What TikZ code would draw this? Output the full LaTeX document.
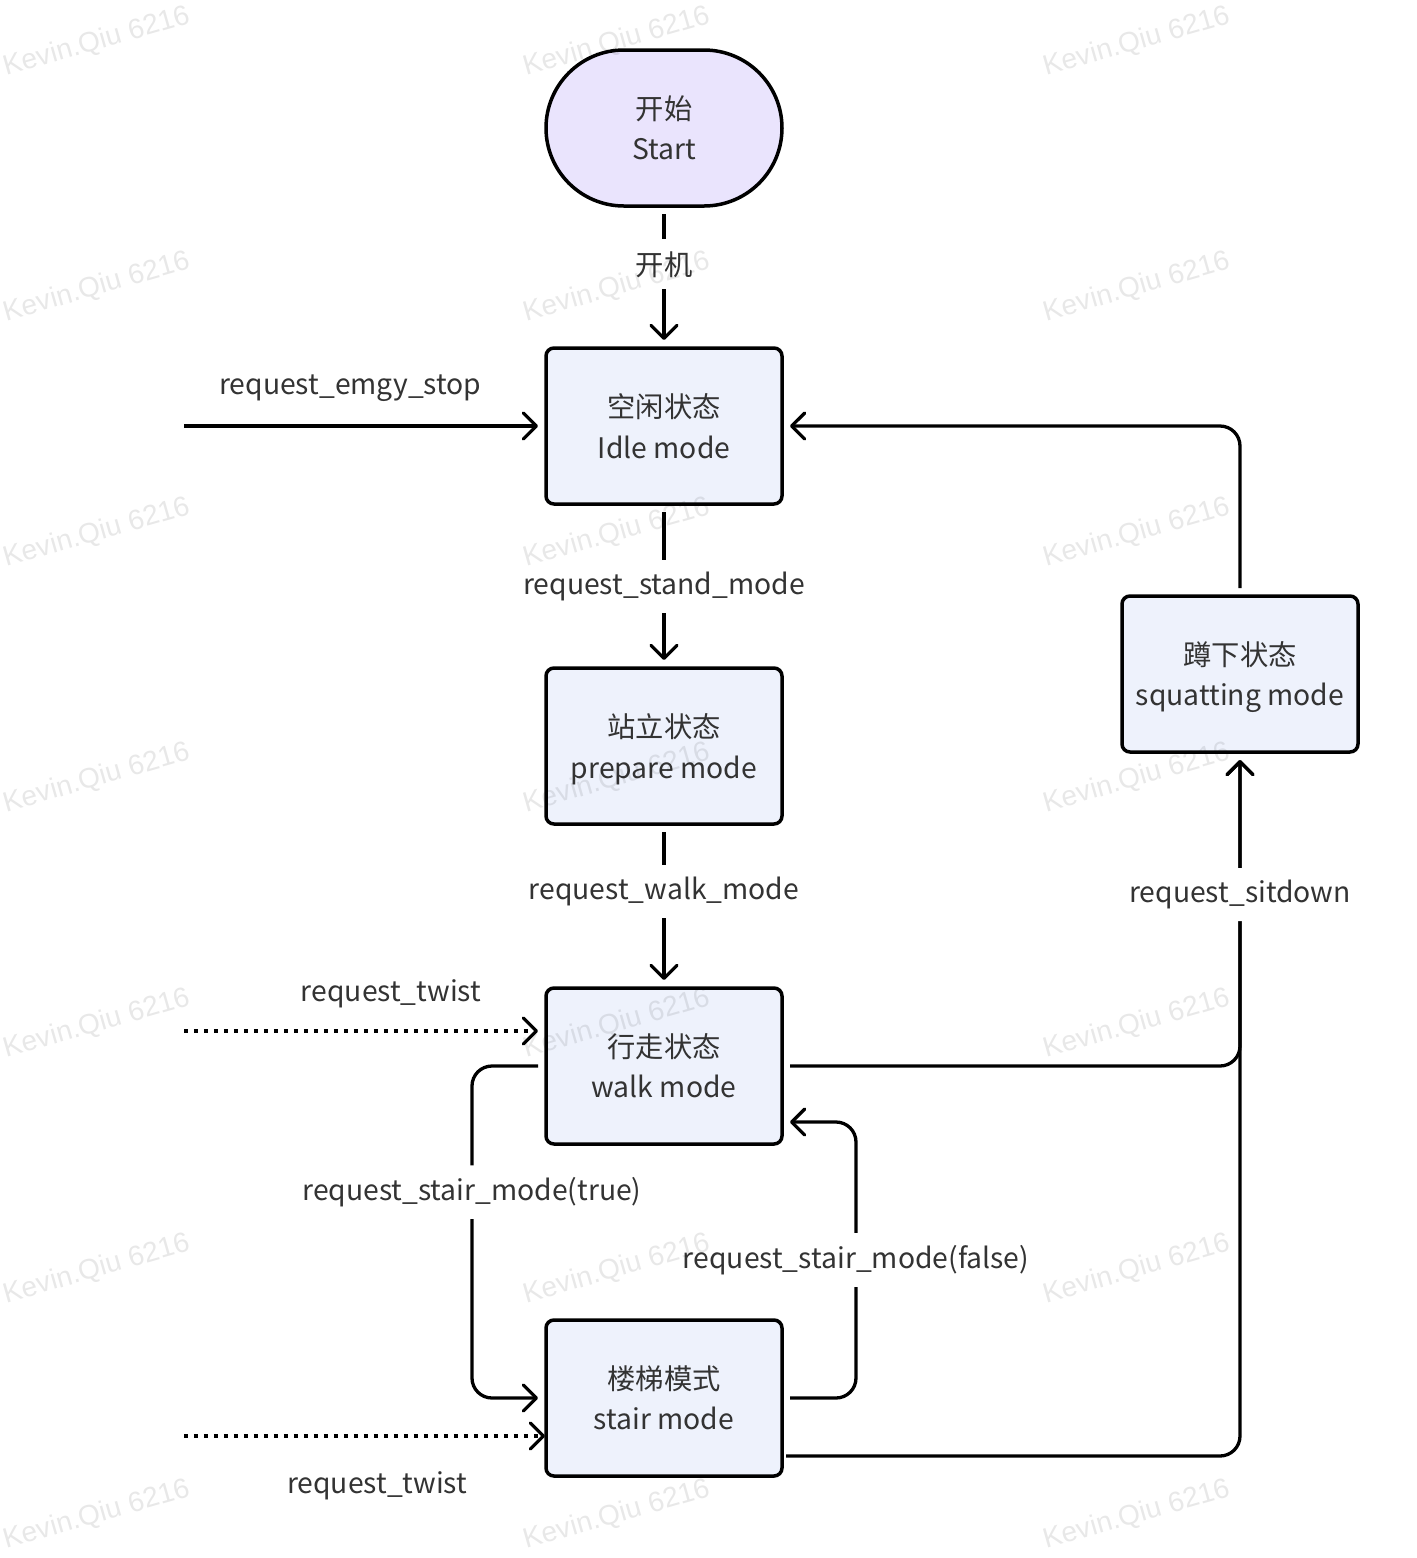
\documentclass[tikz,border=0pt]{standalone}
\usepackage{fontspec}
\setmainfont{Noto Sans CJK SC}
\newfontfamily\wmfont{Liberation Sans}
\definecolor{ink}{HTML}{333333}
\definecolor{boxfill}{RGB}{238,242,252}
\definecolor{startfill}{RGB}{234,228,253}
\usetikzlibrary{positioning,arrows.meta,calc}
\tikzset{
  state/.style={draw=black,fill=boxfill,line width=0.035cm,rounded corners=0.08cm,
                minimum width=2.36cm,minimum height=1.56cm,align=center,
                font=\fontsize{8.05}{11.4}\selectfont,text=ink,outer sep=0.08cm,
                text depth=-0.04cm},
  startnode/.style={state,fill=startfill,rounded corners=0.78cm},
  arr/.style={-{Straight Barb[length=0.13cm,width=0.26cm,round]},line width=0.033cm,black},
  twist/.style={arr,dash pattern=on 0.04cm off 0.06cm},
  lbl/.style={fill=white,inner sep=0.12cm,text=ink,font=\fontsize{8.05}{11.4}\selectfont},
  tag/.style={inner sep=0pt,text=ink,font=\fontsize{8.05}{11.4}\selectfont},
  wmark/.style={font=\wmfont\fontsize{8}{8}\selectfont,text=black,text opacity=0.09,rotate=16},
}
\begin{document}
\begin{tikzpicture}
  \useasboundingbox (0,0) rectangle (14.16,-15.58);

  % states
  \node[startnode] (start) at (6.64,-1.28) {开始\\Start};
  \node[state] (idle) at (6.64,-4.26) {空闲状态\\Idle mode};
  \node[state] (prep) at (6.64,-7.46) {站立状态\\prepare mode};
  \node[state] (walk) at (6.64,-10.66) {行走状态\\walk mode};
  \node[state] (stair) at (6.64,-13.98) {楼梯模式\\stair mode};
  \node[state] (squat) at (12.40,-6.74) {蹲下状态\\squatting mode};

  % loose ends of the outside requests
  \coordinate (emgy) at (1.84,-4.26);
  \coordinate (twistA) at (1.84,-10.31);
  \coordinate (twistB) at (1.84,-14.36);

  % main line
  \draw[arr] (start) -- node[lbl,pos=0.4] (l-boot) {开机} (idle);
  \draw[arr] (idle) -- node[lbl] (l-stand) {request\_stand\_mode} (prep);
  \draw[arr] (prep) -- node[lbl,pos=0.4] (l-walk) {request\_walk\_mode} (walk);

  % outside requests
  \draw[arr] (emgy) -- node[tag,pos=0.47,yshift=0.38cm] (l-emgy) {request\_emgy\_stop} (idle);
  \draw[twist] (twistA) -- node[tag,pos=0.585,yshift=0.37cm] (l-twistA) {request\_twist}
    ($(walk.west)+(0,0.35)$);
  \draw[twist] (twistB) -- node[tag,pos=0.535,yshift=-0.5cm] (l-twistB) {request\_twist}
    ($(stair.west)+(0.07,-0.38)$);

  % stair mode in and out
  \draw[arr,rounded corners=0.2cm] (walk.west) -- ++(-0.66,0)
    |- node[lbl,pos=0.19] (l-true) {request\_stair\_mode(true)} (stair.west);
  \draw[arr,rounded corners=0.2cm] (stair.east) -- ++(0.66,0)
    |- node[lbl,pos=0.25] (l-false) {request\_stair\_mode(false)} ($(walk.east)+(0,-0.56)$);

  % sit down and back to idle
  \draw[arr,rounded corners=0.2cm] ($(stair.east)+(-0.04,-0.58)$) -| (squat.south);
  \draw[arr,rounded corners=0.2cm] (walk.east) -| node[lbl,pos=0.78] (l-sit) {request\_sitdown} (squat.south);
  \draw[arr,rounded corners=0.2cm] (squat.north) |- (idle.east);

  % watermark
  \foreach \i in {0,...,6}
    \foreach \j in {0,1,2}
      \node[wmark] (wm\i\j) at ({0.97+5.2*\j},{-0.42-2.455*\i}) {Kevin.Qiu 6216};
\end{tikzpicture}
\end{document}
